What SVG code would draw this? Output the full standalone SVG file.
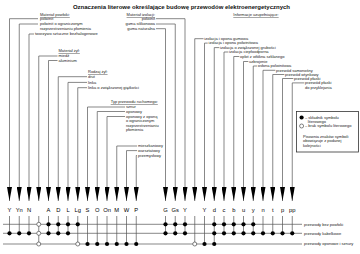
<svg xmlns="http://www.w3.org/2000/svg" width="360" height="254" viewBox="0 0 360 254">
<defs>
<marker id="ah" viewBox="0 0 14 5" refX="14" refY="2.5" markerWidth="14" markerHeight="5" markerUnits="userSpaceOnUse" orient="auto">
<path d="M0,0 L14,2.5 L0,5 z" fill="#000"/>
</marker>
<style>
text{font-family:"Liberation Sans",Arial,sans-serif;fill:#222}
.t{font-size:6px;font-weight:bold;fill:#111}
.s{font-size:4px}
.h{font-size:4px;text-decoration:underline}
.l{font-size:5.8px;text-anchor:middle;fill:#000}
.e{text-anchor:end}
.c{fill:none;stroke:#555;stroke-width:0.7}
.cm{fill:none;stroke:#555;stroke-width:0.7;marker-end:url(#ah)}
.f{fill:#000}
.o{fill:#fff;stroke:#333;stroke-width:0.6}
</style>
</defs>
<rect width="360" height="254" fill="#fff"/>
<g opacity="0.995">
<text class="t" x="181.5" y="8.5" text-anchor="middle">Oznaczenia literowe określające budowę przewodów elektroenergetycznych</text>

<g id="labels">
<text class="h" x="40" y="16">Materiał powłoki:</text>
<text class="s" x="40" y="20">polwinit</text>
<text class="s" x="40" y="25.2">polwinit o ograniczonym</text>
<text class="s" x="40" y="29.6">rozprzestrzenianiu płomienia</text>
<text class="s" x="35" y="35.2">tworzywo sztuczne bezhalogenowe</text>
<text class="h" x="58.5" y="52">Materiał żył:</text>
<text class="s" x="58.5" y="57.2">miedź</text>
<text class="s" x="58.5" y="61.7">aluminium</text>
<text class="h" x="88" y="73">Rodzaj żył:</text>
<text class="s" x="88" y="77.9">drut</text>
<text class="s" x="88" y="83.6">linka</text>
<text class="s" x="88" y="88.9">linka o zwiększonej giętkości</text>
<text class="h" x="110.7" y="103">Typ przewodu ruchomego:</text>
<text class="s" x="126" y="108.2">sznur</text>
<text class="s" x="126" y="112.7">oponowy</text>
<text class="s" x="126" y="117.7">oponowy z oponą</text>
<text class="s" x="126" y="122">o ograniczonym</text>
<text class="s" x="126" y="126.6">rozprzestrzenianiu</text>
<text class="s" x="126" y="131.2">płomienia</text>
<text class="s" x="138" y="147.2">mieszkaniowy</text>
<text class="s" x="138" y="151.8">warsztatowy</text>
<text class="s" x="138" y="156.7">przemysłowy</text>
<text class="h e" x="155" y="16">Materiał izolacji:</text>
<text class="s e" x="155" y="19.9">polwinit</text>
<text class="s e" x="155" y="25.2">guma silikonowa</text>
<text class="s e" x="155" y="29.9">guma naturalna</text>
<text class="h" x="233.3" y="16">Informacje uzupełniające:</text>
<text class="s" x="204.3" y="39.9">izolacja i opona gumowa</text>
<text class="s" x="208.5" y="44.3">izolacja i opona polwinitowa</text>
<text class="s" x="220" y="48.8">izolacja o zwiększonej grubości</text>
<text class="s" x="229" y="53.2">izolacja ciepłoodporna</text>
<text class="s" x="240" y="57.7">oplot z włókna szklanego</text>
<text class="s" x="249" y="62.7">uzbrojenie</text>
<text class="s" x="257.7" y="67.2">osłona polwinitowa</text>
<text class="s" x="276" y="71.5">przewód samonośny</text>
<text class="s" x="285" y="75.7">przewód wtynkowy</text>
<text class="s" x="294" y="79.7">przewód płaski</text>
<text class="s" x="305" y="84.1">przewód płaski</text>
<text class="s" x="305" y="88.5">do przyklejania</text>
</g>

<g id="connectors">
<path class="cm" d="M38,18.7 H9.5 V201"/>
<path class="cm" d="M38,24 H19.25 V201"/>
<path class="cm" d="M34,34 H29 V201"/>
<path class="cm" d="M57.5,56 H38.75 V201"/>
<path class="cm" d="M57.5,60.5 H48.5 V201"/>
<path class="cm" d="M87,76.7 H58.25 V201"/>
<path class="cm" d="M87,82.4 H68 V201"/>
<path class="cm" d="M87,87.7 H77.75 V201"/>
<path class="cm" d="M125,107 H87.5 V201"/>
<path class="cm" d="M125,111.5 H97.25 V201"/>
<path class="cm" d="M125,116.5 H107 V201"/>
<path class="cm" d="M137,146 H116.75 V201"/>
<path class="cm" d="M137,150.6 H126.5 V201"/>
<path class="cm" d="M137,155.5 H136.25 V201"/>
<path class="cm" d="M156,28.7 H165.5 V201"/>
<path class="cm" d="M156,24 H175.25 V201"/>
<path class="cm" d="M156,18.7 H185 V201"/>
<path class="cm" d="M203.5,38.7 H194.75 V201"/>
<path class="cm" d="M207.7,43.1 H204.5 V201"/>
<path class="cm" d="M219.3,47.6 H214.25 V201"/>
<path class="cm" d="M228.3,52 H224 V201"/>
<path class="cm" d="M239.3,56.5 H233.75 V201"/>
<path class="cm" d="M248.3,61.5 H243.5 V201"/>
<path class="cm" d="M257,66 H253.25 V201"/>
<path class="cm" d="M275.3,70.3 H263 V201"/>
<path class="cm" d="M284.3,74.5 H272.75 V201"/>
<path class="cm" d="M293.3,78.5 H282.5 V201"/>
<path class="cm" d="M304.3,82.9 H292.25 V201"/>
<path class="c" d="M3,224.3 H302 M3,233.3 H302 M3,244 H302"/>
<path class="c" d="M9.5,216 V233.3 M19.25,216 V233.3 M29,216 V233.3 M38.75,216 V244 M48.5,216 V233.3 M58.25,216 V233.3 M68,216 V233.3 M77.75,216 V244 M87.5,216 V244 M97.25,216 V244 M107,216 V244 M116.75,216 V244 M126.5,216 V244 M136.25,216 V244 M165.5,216 V233.3 M175.25,216 V233.3 M185,216 V233.3 M194.75,216 V244 M204.5,216 V244 M214.25,216 V244 M224,216 V233.3 M233.75,216 V233.3 M243.5,216 V233.3 M253.25,216 V233.3 M263,216 V233.3 M272.75,216 V233.3 M282.5,216 V233.3 M292.25,216 V233.3"/>
</g>

<g id="letters">
<text class="l" x="9.5" y="212">Y</text>
<text class="l" x="19.25" y="212">Yn</text>
<text class="l" x="29" y="212">N</text>
<text class="l" x="48.5" y="212">A</text>
<text class="l" x="58.25" y="212">D</text>
<text class="l" x="68" y="212">L</text>
<text class="l" x="77.75" y="212">Lg</text>
<text class="l" x="87.5" y="212">S</text>
<text class="l" x="97.25" y="212">O</text>
<text class="l" x="107" y="212">On</text>
<text class="l" x="116.75" y="212">M</text>
<text class="l" x="126.5" y="212">W</text>
<text class="l" x="136.25" y="212">P</text>
<text class="l" x="165.5" y="212">G</text>
<text class="l" x="175.25" y="212">Gs</text>
<text class="l" x="185" y="212">Y</text>
<text class="l" x="204.5" y="212">Y</text>
<text class="l" x="214.25" y="212">d</text>
<text class="l" x="224" y="212">c</text>
<text class="l" x="233.75" y="212">b</text>
<text class="l" x="243.5" y="212">u</text>
<text class="l" x="253.25" y="212">y</text>
<text class="l" x="263" y="212">n</text>
<text class="l" x="272.75" y="212">t</text>
<text class="l" x="282.5" y="212">p</text>
<text class="l" x="292.25" y="212">pp</text>
</g>

<g id="row-bez-powloki">
<text class="s" x="304" y="225.5">przewody bez powłoki</text>
<circle class="o" cx="38.75" cy="224.3" r="2"/>
<g class="f">
<circle cx="48.5" cy="224.3" r="2.1"/><circle cx="58.25" cy="224.3" r="2.1"/><circle cx="68" cy="224.3" r="2.1"/><circle cx="77.75" cy="224.3" r="2.1"/>
<circle cx="165.5" cy="224.3" r="2.1"/><circle cx="175.25" cy="224.3" r="2.1"/><circle cx="185" cy="224.3" r="2.1"/>
<circle cx="214.25" cy="224.3" r="2.1"/><circle cx="224" cy="224.3" r="2.1"/><circle cx="233.75" cy="224.3" r="2.1"/><circle cx="243.5" cy="224.3" r="2.1"/><circle cx="253.25" cy="224.3" r="2.1"/>
</g>
</g>

<g id="row-kabelkowe">
<text class="s" x="304" y="234.5">przewody kabelkowe</text>
<circle class="o" cx="38.75" cy="233.3" r="2"/>
<g class="f">
<circle cx="9.5" cy="233.3" r="2.1"/><circle cx="19.25" cy="233.3" r="2.1"/><circle cx="29" cy="233.3" r="2.1"/>
<circle cx="48.5" cy="233.3" r="2.1"/><circle cx="58.25" cy="233.3" r="2.1"/><circle cx="68" cy="233.3" r="2.1"/>
<circle cx="165.5" cy="233.3" r="2.1"/><circle cx="175.25" cy="233.3" r="2.1"/><circle cx="185" cy="233.3" r="2.1"/>
<circle cx="214.25" cy="233.3" r="2.1"/><circle cx="224" cy="233.3" r="2.1"/><circle cx="233.75" cy="233.3" r="2.1"/><circle cx="243.5" cy="233.3" r="2.1"/><circle cx="253.25" cy="233.3" r="2.1"/>
<circle cx="263" cy="233.3" r="2.1"/><circle cx="272.75" cy="233.3" r="2.1"/><circle cx="282.5" cy="233.3" r="2.1"/><circle cx="292.25" cy="233.3" r="2.1"/>
</g>
</g>

<g id="row-oponowe">
<text class="s" x="304" y="245.2">przewody oponowe i sznury</text>
<circle class="o" cx="38.75" cy="244" r="2"/><circle class="o" cx="77.75" cy="244" r="2"/><circle class="o" cx="194.75" cy="244" r="2"/>
<g class="f">
<circle cx="87.5" cy="244" r="2.1"/><circle cx="97.25" cy="244" r="2.1"/><circle cx="107" cy="244" r="2.1"/><circle cx="116.75" cy="244" r="2.1"/><circle cx="126.5" cy="244" r="2.1"/><circle cx="136.25" cy="244" r="2.1"/>
<circle cx="204.5" cy="244" r="2.1"/><circle cx="214.25" cy="244" r="2.1"/>
</g>
</g>

<g id="legend">
<rect x="296.5" y="111.5" width="62" height="40.5" fill="#fff" stroke="#333" stroke-width="0.8"/>
<circle class="f" cx="301.6" cy="117.5" r="2.1"/>
<text class="s" x="305" y="118.6">– składnik symbolu</text>
<text class="s" x="307.8" y="122.8">literowego</text>
<circle class="o" cx="301.6" cy="126" r="2"/>
<text class="s" x="305" y="127.2">– brak symbolu literowego</text>
<text class="s" x="303" y="138">Pisownia znaków symboli</text>
<text class="s" x="303" y="142.3">obowiązuje z podanej</text>
<text class="s" x="303" y="146.6">kolejności</text>
</g>
</g>
</svg>
